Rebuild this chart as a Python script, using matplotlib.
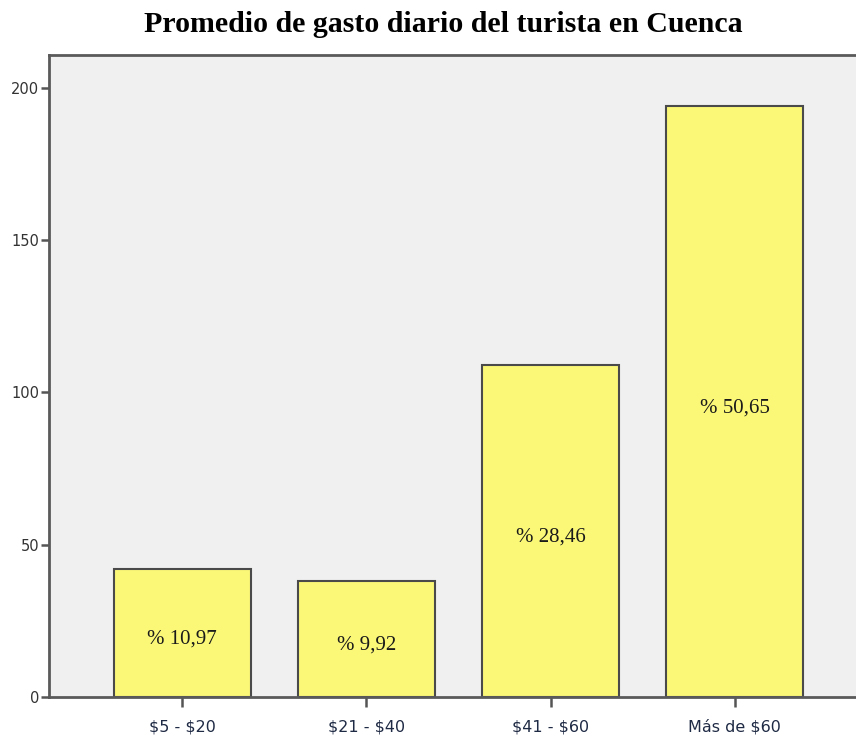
import matplotlib
matplotlib.use('Agg')
import matplotlib.pyplot as plt
import numpy as np

# datos del grafico
categorias = ['\\$5 - \\$20', '\\$21 - \\$40', '\\$41 - \\$60', 'Más de \\$60']
frecuencias = [42, 38, 109, 194]
porcentajes = ['% 10,97', '% 9,92', '% 28,46', '% 50,65']
y_ticks = [0, 50, 100, 150, 200]

fig = plt.figure(figsize=(8.56, 7.36), dpi=100)
ax = fig.add_axes([49 / 856, 1 - 697 / 736, 819 / 856, 642 / 736])
ax.set_facecolor('#f0f0f0')

x = np.arange(len(categorias))
ax.bar(x, frecuencias, width=0.745, color='#fbf877', edgecolor='#4a4a4a',
       linewidth=1.5, zorder=2)

# etiquetas de porcentaje dentro de las barras
for xi, h, txt in zip(x, frecuencias, porcentajes):
    ax.text(xi, h / 2 - 2, txt, ha='center', va='center', fontsize=15,
            family='Liberation Serif', color='#1a1a1a', zorder=3)

ax.set_xlim(-0.723, 3.723)
ax.set_ylim(0, 210.8)
ax.set_yticks(y_ticks)
ax.set_xticks(x)
ax.set_xticklabels(categorias, fontsize=11.5, family='DejaVu Sans')
ax.tick_params(axis='y', labelsize=10.5, colors='#555555', length=6, width=1.8,
               direction='out', pad=1)
ax.tick_params(axis='x', length=7, width=1.8, colors='#555555', pad=9)
for lbl in ax.get_xticklabels():
    lbl.set_color('#1f2a44')
for lbl in ax.get_yticklabels():
    lbl.set_color('#333333')

for s in ['left', 'bottom', 'top']:
    ax.spines[s].set_color('#5a5a5a')
    ax.spines[s].set_linewidth(2)
ax.spines['right'].set_visible(False)

fig.text(443 / 856, 1 - 24 / 736, 'Promedio de gasto diario del turista en Cuenca',
         ha='center', va='center', fontsize=21.5, fontweight='bold',
         family='Liberation Serif')

fig.savefig('out.png', dpi=100)
